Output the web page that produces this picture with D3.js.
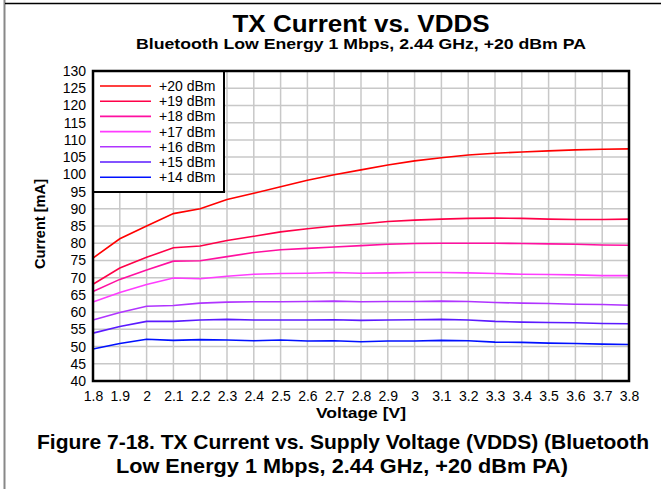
<!DOCTYPE html>
<html>
<head>
<meta charset="utf-8">
<script src="https://cdn.jsdelivr.net/npm/d3@7"></script>
<style>
	body { margin: 0; background: #fff; }
	svg { display: block; font-family: "Liberation Sans", Arial, sans-serif; }
</style>
</head>
<body>
<div id="chart"></div>
<script>

var volts = [1.8, 1.9, 2.0, 2.1, 2.2, 2.3, 2.4, 2.5, 2.6, 2.7, 2.8, 2.9, 3.0, 3.1, 3.2, 3.3, 3.4, 3.5, 3.6, 3.7, 3.8];
var series = ["+20 dBm", "+19 dBm", "+18 dBm", "+17 dBm", "+16 dBm", "+15 dBm", "+14 dBm"];

var p20 = [75.7, 81.3, 85.0, 88.6, 90.0, 92.7, 94.5, 96.4, 98.3, 99.9, 101.3, 102.7, 103.9, 104.8, 105.6, 106.1, 106.5, 106.8, 107.1, 107.3, 107.4];
var p19 = [68.1, 72.8, 75.9, 78.7, 79.2, 80.8, 82.0, 83.3, 84.2, 85.0, 85.6, 86.3, 86.7, 87.0, 87.2, 87.3, 87.2, 87.0, 86.9, 86.9, 87.0];
var p18 = [66.0, 69.5, 72.2, 74.8, 74.9, 76.1, 77.3, 78.1, 78.5, 78.9, 79.3, 79.7, 79.9, 80.0, 80.0, 80.0, 79.9, 79.8, 79.7, 79.5, 79.4];
var p17 = [62.9, 65.7, 68.0, 69.9, 69.7, 70.4, 71.0, 71.2, 71.3, 71.5, 71.3, 71.4, 71.5, 71.5, 71.4, 71.2, 71.0, 70.9, 70.8, 70.6, 70.6];
var p16 = [57.7, 59.9, 61.7, 61.9, 62.6, 62.9, 63.0, 63.0, 63.1, 63.2, 63.0, 63.1, 63.1, 63.2, 63.1, 62.8, 62.6, 62.5, 62.3, 62.2, 62.0];
var p15 = [53.9, 55.8, 57.3, 57.3, 57.7, 57.9, 57.7, 57.7, 57.7, 57.8, 57.6, 57.7, 57.8, 57.9, 57.7, 57.3, 57.1, 57.0, 56.9, 56.7, 56.6];
var p14 = [49.3, 50.9, 52.1, 51.8, 52.0, 51.9, 51.7, 51.9, 51.6, 51.7, 51.4, 51.6, 51.6, 51.8, 51.7, 51.3, 51.2, 51.0, 50.9, 50.7, 50.6];

var yticks = d3.range(40, 131, 5);
var colors = ["#ff0000", "#ff0048", "#ff10a0", "#ff3cff", "#b034ff", "#5a1aff", "#0010ff"];

var vals = [p20, p19, p18, p17, p16, p15, p14];

var W = 661, H = 489;
const margin = { top: 71, right: 32, bottom: 108, left: 93 },
	width = W - margin.left - margin.right,
	height = H - margin.top - margin.bottom;

var svg = d3.select("#chart").append("svg")
	.attr("width", W)
	.attr("height", H);

// page frame
svg.append("line").attr("x1", 4.5).attr("x2", 4.5).attr("y1", 0).attr("y2", H)
	.attr("stroke", "#888").attr("stroke-width", 2);
svg.append("line").attr("x1", 5).attr("x2", W).attr("y1", 3.5).attr("y2", 3.5)
	.attr("stroke", "#000").attr("stroke-width", 1.5);

var cx = margin.left + width / 2;

// bold text helper, stretched to the width seen in the picture
function btext(px, py, size, len, s)	{
	return svg.append("text").attr("x", px).attr("y", py)
		.attr("text-anchor", "middle").attr("font-weight", "bold").attr("font-size", size)
		.attr("textLength", len).attr("lengthAdjust", "spacingAndGlyphs")
		.text(s);
}

btext(cx, 32, 23, 257, "TX Current vs. VDDS");
btext(cx, 49, 15.5, 450, "Bluetooth Low Energy 1 Mbps, 2.44 GHz, +20 dBm PA");

var g = svg.append("g").attr("transform", `translate(${margin.left},${margin.top})`);

var x = d3.scaleLinear([1.8, 3.8], [0, width]);
var y = d3.scaleLinear([40, 130], [height, 0]);

// grid
g.append("g").selectAll("line").data(volts).join("line")
	.attr("x1", d => x(d)).attr("x2", d => x(d))
	.attr("y1", 0).attr("y2", height)
	.attr("stroke", "#c8c8c8").attr("stroke-width", 1.5);
g.append("g").selectAll("line").data(yticks).join("line")
	.attr("x1", 0).attr("x2", width)
	.attr("y1", d => y(d)).attr("y2", d => y(d))
	.attr("stroke", "#c8c8c8").attr("stroke-width", 1.5);

// axes
var xaxis = d3.axisBottom(x).tickValues(volts).tickSize(0).tickPadding(10).tickFormat(d3.format("~g"));
var yaxis = d3.axisLeft(y).tickValues(yticks).tickSize(0).tickPadding(7);

g.append("g").attr("class", "xaxis").attr("transform", `translate(0,${height})`).call(xaxis);
g.append("g").attr("class", "yaxis").call(yaxis);
g.selectAll(".xaxis path, .yaxis path").remove();
g.selectAll(".tick text").attr("font-size", 14).attr("font-family", "Liberation Sans, Arial, sans-serif").attr("fill", "#000");

// lines
var line = d3.line((d, i) => x(volts[i]), d => y(d));
g.selectAll(".line").data(vals).join("path")
	.attr("class", "line")
	.attr("fill", "none")
	.attr("stroke", (d, i) => colors[i])
	.attr("stroke-width", 1.6)
	.attr("d", d => line(d));

// legend
var lg = g.append("g");
lg.append("rect").attr("x", 0).attr("y", 0).attr("width", 131).attr("height", 121)
	.attr("fill", "#fff").attr("stroke", "#000").attr("stroke-width", 2);
var items = lg.selectAll(".item").data(series).join("g")
	.attr("class", "item")
	.attr("transform", (d, i) => `translate(0,${15 + i * 15.2})`);
items.append("line").attr("x1", 7).attr("x2", 58).attr("y1", 0).attr("y2", 0)
	.attr("stroke", (d, i) => colors[i]).attr("stroke-width", 1.6);
items.append("text").attr("x", 66).attr("y", 5).attr("font-size", 14).text(d => d);

// plot frame
g.append("rect").attr("width", width).attr("height", height)
	.attr("fill", "none").attr("stroke", "#000").attr("stroke-width", 2.5);

// axis titles
btext(cx, 418, 14.5, 90, "Voltage [V]");
svg.append("text")
	.attr("transform", `translate(45,${margin.top + height / 2 - 2}) rotate(-90)`)
	.attr("text-anchor", "middle").attr("font-weight", "bold").attr("font-size", 14.5)
	.attr("textLength", 90).attr("lengthAdjust", "spacingAndGlyphs")
	.text("Current [mA]");

// caption
btext(343, 449, 21, 612, "Figure 7-18. TX Current vs. Supply Voltage (VDDS) (Bluetooth");
btext(342, 473, 21, 452, "Low Energy 1 Mbps, 2.44 GHz, +20 dBm PA)");

</script>
</body>
</html>
